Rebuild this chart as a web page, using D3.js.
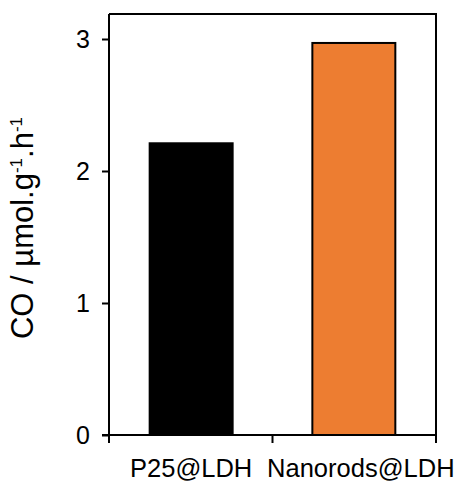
<!DOCTYPE html>
<html>
<head>
    <meta charset="utf-8">
    <title>CO production</title>
    <style>
        body { margin: 0; background: #fff; }
        text { font-family: Arial, "Liberation Sans", sans-serif; fill: #000; }
    </style>
    <script src="https://cdn.jsdelivr.net/npm/d3@7"></script>
</head>
<body>
<script>

    var categories = ['P25@LDH', 'Nanorods@LDH']
    var values = [2.21, 2.97]
    var colors = ['#000000', '#ED7D31']
    var yTicks = [0, 1, 2, 3]

    var width = 461,
        height = 483
    var margin = {left: 109, right: 25, top: 14, bottom: 48}

    var svg = d3.select('body').append('svg')
        .attr('width', width)
        .attr('height', height)

    var x = d3.scaleBand()
        .domain(categories)
        .range([margin.left, width - margin.right])
        .paddingInner(0.49)
        .paddingOuter(0.25)

    var y = d3.scaleLinear()
        .domain([0, 3])
        .range([435, 39])

    // frame (top + right)
    svg.append('path')
        .attr('d', 'M' + margin.left + ',' + margin.top + 'H' + (width - margin.right) + 'V' + y(0))
        .attr('fill', 'none')
        .attr('stroke', '#000')
        .attr('stroke-width', 2)

    svg.selectAll('rect.bar')
        .data(values)
        .enter().append('rect')
        .attr('class', 'bar')
        .attr('x', function (d, i) { return x(categories[i]) })
        .attr('width', x.bandwidth())
        .attr('y', function (d) { return y(d) })
        .attr('height', function (d) { return y(0) - y(d) })
        .attr('fill', function (d, i) { return colors[i] })
        .attr('stroke', '#000')
        .attr('stroke-width', 2)

    var yAxis = svg.append('g')
        .attr('transform', 'translate(' + margin.left + ',0)')
        .call(d3.axisLeft(y).tickValues(yTicks).tickSize(7).tickPadding(12).tickFormat(d3.format('d')))
    yAxis.select('.domain').attr('d', 'M0,' + margin.top + 'V' + y(0)).attr('stroke-width', 2)
    yAxis.selectAll('.tick line').attr('stroke-width', 2)
    yAxis.selectAll('text').style('font-size', '25px').attr('fill', '#000')

    // category boundary ticks on the x axis
    var xEdges = [margin.left, (margin.left + width - margin.right) / 2, width - margin.right]
    var xAxis = svg.append('g')
    xAxis.append('line')
        .attr('x1', margin.left - 7).attr('x2', width - margin.right)
        .attr('y1', y(0)).attr('y2', y(0))
        .attr('stroke', '#000').attr('stroke-width', 2)
    xAxis.selectAll('line.edge')
        .data(xEdges)
        .enter().append('line')
        .attr('class', 'edge')
        .attr('x1', function (d) { return d }).attr('x2', function (d) { return d })
        .attr('y1', y(0)).attr('y2', y(0) + 8)
        .attr('stroke', '#000').attr('stroke-width', 2)
    xAxis.selectAll('text')
        .data(categories)
        .enter().append('text')
        .attr('x', function (d) { return x(d) + x.bandwidth() / 2 })
        .attr('dx', function (d, i) { return i * 7 })
        .attr('y', 477)
        .attr('text-anchor', 'middle')
        .style('font-size', '25.5px')
        .text(function (d) { return d })

    var ylab = svg.append('text')
        .attr('transform', 'translate(33,' + 228 + ') rotate(-90)')
        .attr('text-anchor', 'middle')
        .style('font-size', '31px')
    ylab.append('tspan').text('CO / µmol.g')
    ylab.append('tspan').attr('dy', -11).style('font-size', '17px').text('-1')
    ylab.append('tspan').attr('dy', 11).text('.h')
    ylab.append('tspan').attr('dy', -11).style('font-size', '17px').text('-1')

</script>
</body>
</html>
